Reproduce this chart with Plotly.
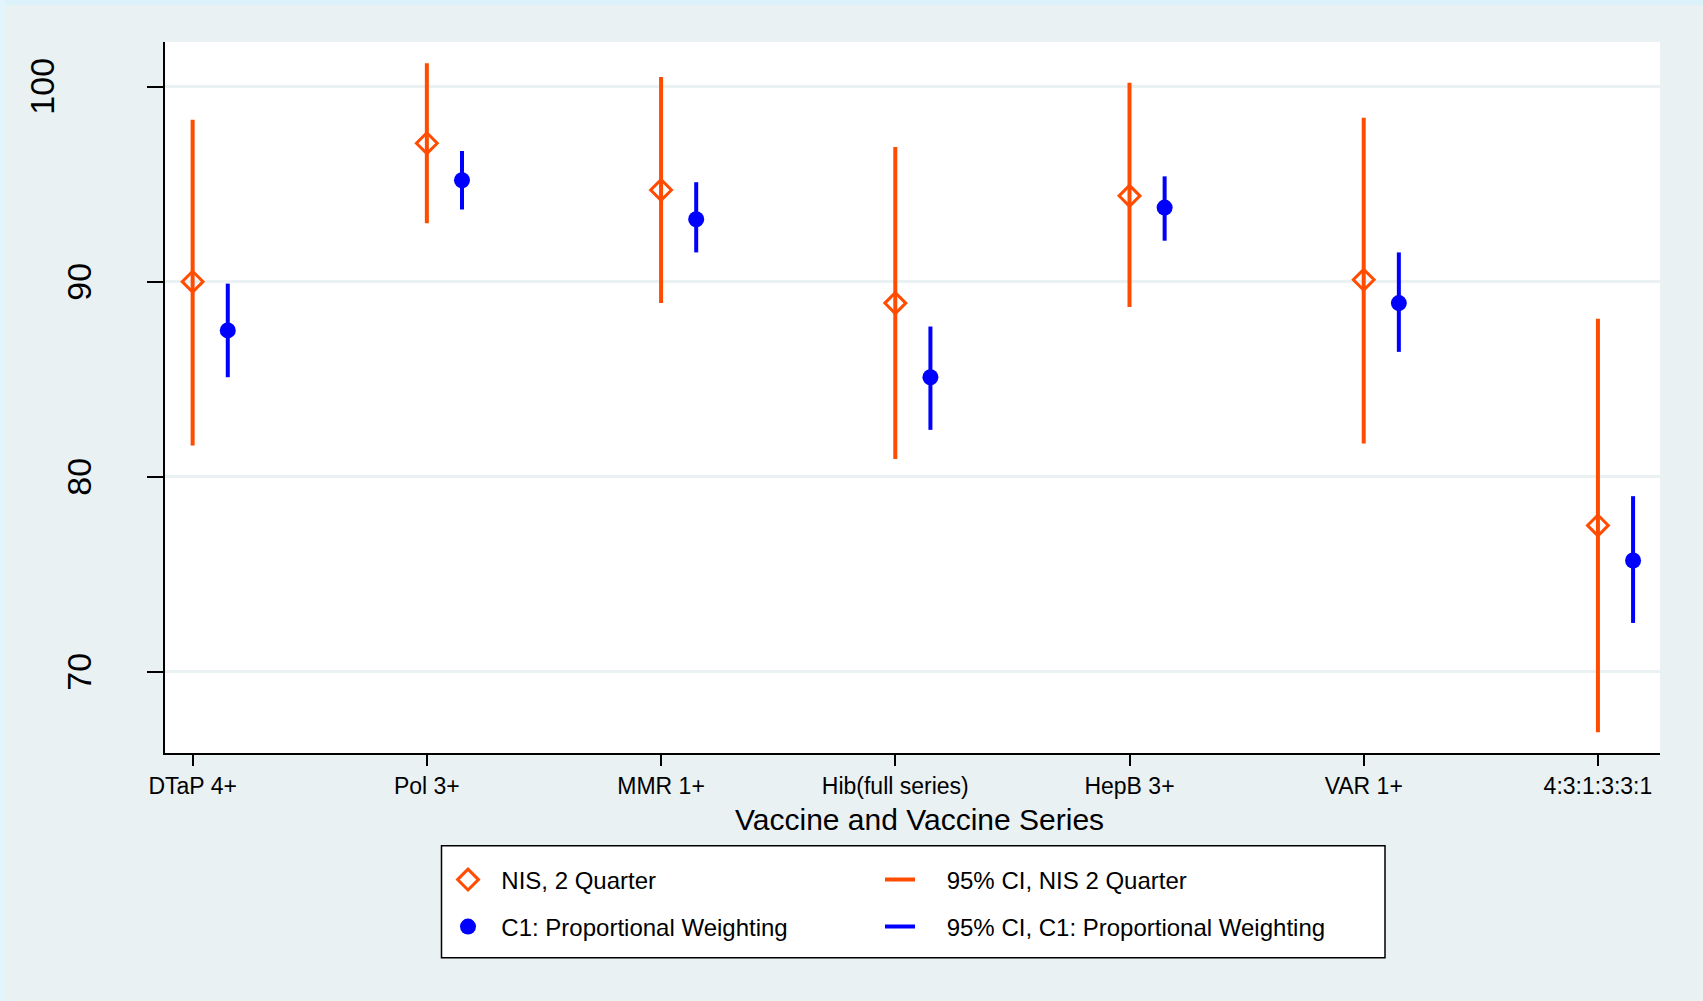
import plotly.graph_objects as go

# Vaccination coverage (%) by vaccine / series, two estimation methods
categories = ["DTaP 4+", "Pol 3+", "MMR 1+", "Hib(full series)", "HepB 3+", "VAR 1+", "4:3:1:3:3:1"]

nis_est = [90.0, 97.1, 94.7, 88.9, 94.4, 90.1, 77.5]
nis_lo = [81.6, 93.0, 88.9, 80.9, 88.7, 81.7, 66.9]
nis_hi = [98.3, 101.2, 100.5, 96.9, 100.2, 98.4, 88.1]

c1_est = [87.5, 95.2, 93.2, 85.1, 93.8, 88.9, 75.7]
c1_lo = [85.1, 93.7, 91.5, 82.4, 92.1, 86.4, 72.5]
c1_hi = [89.9, 96.7, 95.1, 87.7, 95.4, 91.5, 79.0]

y_ticks = [70, 80, 90, 100]

ORANGE = "#ff4c00"
BLUE = "#0000ff"
BG = "#e9f1f3"
FONT = "Liberation Sans, Arial, sans-serif"

W, H = 1703, 1001
ML, MR, MT, MB = 165, 43, 42, 248
PW, PH = W - ML - MR, H - MT - MB


def px_x(p):
    return (p - ML) / PW


def px_y(p):
    return (H - MB - p) / PH


x_nis = list(range(len(categories)))
x_c1 = [i + 0.15 for i in x_nis]


def segments(xs, lo, hi):
    sx, sy = [], []
    for x, a, b in zip(xs, lo, hi):
        sx += [x, x, None]
        sy += [a, b, None]
    return sx, sy


NB = "\u00a0"

fig = go.Figure()

ci_nis_x, ci_nis_y = segments(x_nis, nis_lo, nis_hi)
ci_c1_x, ci_c1_y = segments(x_c1, c1_lo, c1_hi)

fig.add_trace(go.Scatter(x=ci_nis_x, y=ci_nis_y, mode="lines",
                         line=dict(color=ORANGE, width=4),
                         name=NB * 4 + "95% CI, NIS 2 Quarter", legend="legend2"))
fig.add_trace(go.Scatter(x=ci_c1_x, y=ci_c1_y, mode="lines",
                         line=dict(color=BLUE, width=4),
                         name=NB * 4 + "95% CI, C1: Proportional Weighting", legend="legend4"))
fig.add_trace(go.Scatter(x=x_nis, y=nis_est, mode="markers",
                         marker=dict(symbol="diamond-open", size=16, color=ORANGE,
                                     line=dict(color=ORANGE, width=3)),
                         name=NB * 2 + "NIS, 2 Quarter", legend="legend"))
fig.add_trace(go.Scatter(x=x_c1, y=c1_est, mode="markers",
                         marker=dict(symbol="circle", size=16, color=BLUE),
                         name=NB * 2 + "C1: Proportional Weighting", legend="legend3"))

# vertical y tick labels
annotations = []
for v in y_ticks:
    cx = 42 if v >= 100 else 79
    annotations.append(dict(x=px_x(cx), xref="paper", y=v, yref="y",
                            text=str(v), showarrow=False, textangle=-90,
                            xanchor="center", yanchor="middle",
                            font=dict(family=FONT, size=34, color="black")))

# x-axis title
annotations.append(dict(x=px_x(919), xref="paper", y=px_y(819), yref="paper",
                        text="Vaccine and Vaccine Series", showarrow=False,
                        xanchor="center", yanchor="middle",
                        font=dict(family=FONT, size=30, color="black")))

leg_font = dict(family=FONT, size=24, color="black")


def leg(xp, yp):
    return dict(x=px_x(xp), y=px_y(yp), xanchor="left", yanchor="middle",
                bgcolor="rgba(0,0,0,0)", borderwidth=0, font=leg_font,
                orientation="v")


shapes = [
    # legend frame
    dict(type="rect", xref="paper", yref="paper",
         x0=px_x(441.5), x1=px_x(1385), y0=px_y(957.7), y1=px_y(845.7),
         fillcolor="white", line=dict(color="black", width=1.5), layer="above"),
    # thin light strips along the top and left edges
    dict(type="rect", xref="paper", yref="paper",
         x0=px_x(0), x1=px_x(W), y0=px_y(5), y1=px_y(0),
         fillcolor="#dcf2fb", line=dict(width=0), layer="below"),
    dict(type="rect", xref="paper", yref="paper",
         x0=px_x(0), x1=px_x(5), y0=px_y(H), y1=px_y(0),
         fillcolor="#e3f5fc", line=dict(width=0), layer="below"),
]

fig.update_layout(
    width=W, height=H,
    margin=dict(l=ML, r=MR, t=MT, b=MB),
    paper_bgcolor=BG, plot_bgcolor="white",
    font=dict(family=FONT, color="black"),
    showlegend=True,
    legend=leg(448, 880),
    legend2=leg(880, 880),
    legend3=leg(448, 927),
    legend4=leg(880, 927),
    annotations=annotations,
    shapes=shapes,
    xaxis=dict(range=[-0.118, 6.265], tickvals=x_nis, ticktext=categories,
               showgrid=False, zeroline=False,
               showline=True, linecolor="black", linewidth=2,
               ticks="outside", ticklen=11, tickwidth=1.5, tickcolor="black",
               tickfont=dict(family=FONT, size=23, color="black")),
    yaxis=dict(range=[65.83, 102.29], tickvals=y_ticks, showticklabels=False,
               showgrid=True, gridcolor=BG, gridwidth=2.5, zeroline=False,
               showline=True, linecolor="black", linewidth=2,
               ticks="outside", ticklen=16, tickwidth=1.5, tickcolor="black"),
)

fig.write_html("out.html")
